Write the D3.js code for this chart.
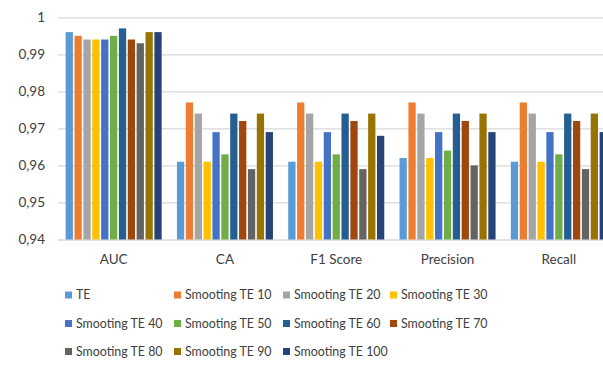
<!DOCTYPE html>
<html><head><meta charset="utf-8">
<script src="https://cdn.jsdelivr.net/npm/d3@7"></script>
<style>body{margin:0;background:#fff;}svg{display:block;font-family:Lato, "Open Sans", sans-serif;}</style>
</head><body><svg id="c" width="603" height="365"></svg>
<script>
const categories = ["AUC", "CA", "F1 Score", "Precision", "Recall"];
const seriesNames = ["TE", "Smooting TE 10", "Smooting TE 20", "Smooting TE 30", "Smooting TE 40", "Smooting TE 50", "Smooting TE 60", "Smooting TE 70", "Smooting TE 80", "Smooting TE 90", "Smooting TE 100"];
const colors = ["#5B9BD5", "#ED7D31", "#A5A5A5", "#FFC000", "#4472C4", "#70AD47", "#255E91", "#9E480E", "#636363", "#997300", "#264478"];
// values per series, in category order
const TE     = [0.996, 0.961, 0.961, 0.962, 0.961];
const ST10   = [0.995, 0.977, 0.977, 0.977, 0.977];
const ST20   = [0.994, 0.974, 0.974, 0.974, 0.974];
const ST30   = [0.994, 0.961, 0.961, 0.962, 0.961];
const ST40   = [0.994, 0.969, 0.969, 0.969, 0.969];
const ST50   = [0.995, 0.963, 0.963, 0.964, 0.963];
const ST60   = [0.997, 0.974, 0.974, 0.974, 0.974];
const ST70   = [0.994, 0.972, 0.972, 0.972, 0.972];
const ST80   = [0.993, 0.959, 0.959, 0.960, 0.959];
const ST90   = [0.996, 0.974, 0.974, 0.974, 0.974];
const ST100  = [0.996, 0.969, 0.968, 0.969, 0.969];
const seriesValues = [TE, ST10, ST20, ST30, ST40, ST50, ST60, ST70, ST80, ST90, ST100];
const tickValues = [0.94, 0.95, 0.96, 0.97, 0.98, 0.99, 1];
const tickLabels = ["0,94", "0,95", "0,96", "0,97", "0,98", "0,99", "1"];

const svg = d3.select("#c");
const plotLeft = 58, plotRight = 614.5, plotTop = 17.3, plotBottom = 239.5;

const y = d3.scaleLinear().domain([0.94, 1]).range([plotBottom, plotTop]);
const x0 = d3.scaleBand().domain(categories).range([plotLeft, plotRight]).padding(0);
const x1 = d3.scaleBand().domain(seriesNames).range([0, x0.bandwidth()]).paddingInner(0.18).paddingOuter(0.86);

// gridlines
const yAxis = d3.axisLeft(y).tickValues(tickValues)
  .tickFormat((d, i) => tickLabels[i]).tickSize(-(plotRight - plotLeft)).tickPadding(13);
const ga = svg.append("g").attr("transform", `translate(${plotLeft},0)`).call(yAxis);
ga.select(".domain").remove();
ga.selectAll(".tick line").attr("stroke", "#d9d9d9").attr("stroke-width", 1.3);
ga.selectAll(".tick text").attr("fill", "#404040").attr("font-size", 13.5).attr("font-family", "Lato, sans-serif");

// bars
const groups = svg.append("g").selectAll("g").data(categories).join("g")
  .attr("transform", d => `translate(${x0(d)},0)`);
groups.selectAll("rect").data((c, ci) => seriesNames.map((s, si) => ({s, si, v: seriesValues[si][ci]})))
  .join("rect")
  .attr("x", d => x1(d.s))
  .attr("width", x1.bandwidth())
  .attr("y", d => y(d.v))
  .attr("height", d => y(0.94) - y(d.v))
  .attr("fill", d => colors[d.si]);

// x axis labels
const xAxis = d3.axisBottom(x0).tickSize(0).tickPadding(15);
const gx = svg.append("g").attr("transform", `translate(0,${plotBottom})`).call(xAxis);
gx.select(".domain").remove();
gx.selectAll(".tick text").attr("fill", "#404040").attr("font-size", 13.5).attr("font-family", "Lato, sans-serif");

// legend
const colX = [65, 174, 283, 390];
const rowY = [295, 323.5, 351.5];
const lg = svg.append("g").selectAll("g").data(seriesNames).join("g")
  .attr("transform", (d, i) => `translate(${colX[i % 4]},${rowY[Math.floor(i / 4)]})`);
lg.append("rect").attr("x", 0).attr("y", -3.5).attr("width", 7).attr("height", 7).attr("fill", (d, i) => colors[i]);
lg.append("text").attr("x", 11).attr("y", 0).attr("dy", "0.36em")
  .attr("font-size", 12.4).attr("fill", "#404040").text(d => d);
</script></body></html>
